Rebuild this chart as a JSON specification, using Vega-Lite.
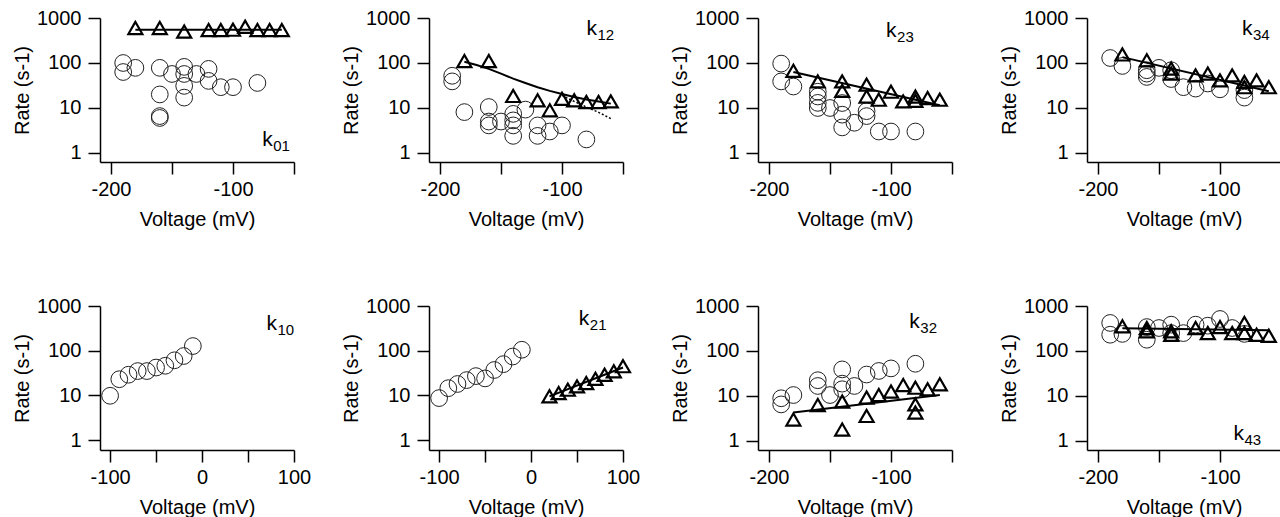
{
"$schema":"https://vega.github.io/schema/vega-lite/v6.json",
"background":"white",
"padding":{"left":12,"top":8,"right":0,"bottom":0},
"bounds":"flush",
"columns":4,
"spacing":{"row":144,"column":135},
"datasets":{
"rows":[
{"panel":"k01","kind":"circle","voltage":-190,"rate":100},{"panel":"k01","kind":"circle","voltage":-190,"rate":63},{"panel":"k01","kind":"circle","voltage":-180,"rate":78},{"panel":"k01","kind":"circle","voltage":-160,"rate":78},{"panel":"k01","kind":"circle","voltage":-160,"rate":20},{"panel":"k01","kind":"circle","voltage":-160,"rate":6.6},{"panel":"k01","kind":"circle","voltage":-160,"rate":6},{"panel":"k01","kind":"circle","voltage":-150,"rate":57},{"panel":"k01","kind":"circle","voltage":-140,"rate":82},{"panel":"k01","kind":"circle","voltage":-140,"rate":57},{"panel":"k01","kind":"circle","voltage":-140,"rate":31},{"panel":"k01","kind":"circle","voltage":-140,"rate":17},{"panel":"k01","kind":"circle","voltage":-130,"rate":57},{"panel":"k01","kind":"circle","voltage":-120,"rate":74},{"panel":"k01","kind":"circle","voltage":-120,"rate":40},{"panel":"k01","kind":"circle","voltage":-110,"rate":29},{"panel":"k01","kind":"circle","voltage":-100,"rate":29},{"panel":"k01","kind":"circle","voltage":-80,"rate":36},
{"panel":"k01","kind":"triangle","voltage":-180,"rate":600},{"panel":"k01","kind":"triangle","voltage":-160,"rate":600},{"panel":"k01","kind":"triangle","voltage":-140,"rate":500},{"panel":"k01","kind":"triangle","voltage":-120,"rate":540},{"panel":"k01","kind":"triangle","voltage":-110,"rate":540},{"panel":"k01","kind":"triangle","voltage":-100,"rate":550},{"panel":"k01","kind":"triangle","voltage":-90,"rate":640},{"panel":"k01","kind":"triangle","voltage":-80,"rate":540},{"panel":"k01","kind":"triangle","voltage":-70,"rate":540},{"panel":"k01","kind":"triangle","voltage":-60,"rate":540},
{"panel":"k01","kind":"fit","voltage":-180,"rate":550},{"panel":"k01","kind":"fit","voltage":-60,"rate":550},

{"panel":"k12","kind":"circle","voltage":-190,"rate":52},{"panel":"k12","kind":"circle","voltage":-190,"rate":39},{"panel":"k12","kind":"circle","voltage":-180,"rate":8.1},{"panel":"k12","kind":"circle","voltage":-160,"rate":10.5},{"panel":"k12","kind":"circle","voltage":-160,"rate":5},{"panel":"k12","kind":"circle","voltage":-160,"rate":4.1},{"panel":"k12","kind":"circle","voltage":-150,"rate":5},{"panel":"k12","kind":"circle","voltage":-140,"rate":7.4},{"panel":"k12","kind":"circle","voltage":-140,"rate":5.3},{"panel":"k12","kind":"circle","voltage":-140,"rate":4.1},{"panel":"k12","kind":"circle","voltage":-140,"rate":2.4},{"panel":"k12","kind":"circle","voltage":-130,"rate":9.2},{"panel":"k12","kind":"circle","voltage":-120,"rate":4.1},{"panel":"k12","kind":"circle","voltage":-120,"rate":2.4},{"panel":"k12","kind":"circle","voltage":-110,"rate":3},{"panel":"k12","kind":"circle","voltage":-100,"rate":4.1},{"panel":"k12","kind":"circle","voltage":-80,"rate":2},
{"panel":"k12","kind":"triangle","voltage":-180,"rate":110},{"panel":"k12","kind":"triangle","voltage":-160,"rate":110},{"panel":"k12","kind":"triangle","voltage":-140,"rate":18.5},{"panel":"k12","kind":"triangle","voltage":-120,"rate":14.8},{"panel":"k12","kind":"triangle","voltage":-110,"rate":8.9},{"panel":"k12","kind":"triangle","voltage":-100,"rate":16},{"panel":"k12","kind":"triangle","voltage":-90,"rate":14.8},{"panel":"k12","kind":"triangle","voltage":-80,"rate":13.6},{"panel":"k12","kind":"triangle","voltage":-70,"rate":13.6},{"panel":"k12","kind":"triangle","voltage":-60,"rate":14},
{"panel":"k12","kind":"fit","voltage":-180,"rate":107},{"panel":"k12","kind":"fit","voltage":-170,"rate":90},{"panel":"k12","kind":"fit","voltage":-160,"rate":74},{"panel":"k12","kind":"fit","voltage":-150,"rate":58},{"panel":"k12","kind":"fit","voltage":-140,"rate":45},{"panel":"k12","kind":"fit","voltage":-130,"rate":36},{"panel":"k12","kind":"fit","voltage":-120,"rate":29},{"panel":"k12","kind":"fit","voltage":-110,"rate":24},{"panel":"k12","kind":"fit","voltage":-100,"rate":20.5},{"panel":"k12","kind":"fit","voltage":-90,"rate":17.5},{"panel":"k12","kind":"fit","voltage":-80,"rate":15.5},{"panel":"k12","kind":"fit","voltage":-70,"rate":14},{"panel":"k12","kind":"fit","voltage":-60,"rate":12.5},
{"panel":"k12","kind":"dotted","voltage":-100,"rate":19},{"panel":"k12","kind":"dotted","voltage":-90,"rate":14},{"panel":"k12","kind":"dotted","voltage":-80,"rate":10.5},{"panel":"k12","kind":"dotted","voltage":-70,"rate":8},{"panel":"k12","kind":"dotted","voltage":-60,"rate":5.8},

{"panel":"k23","kind":"circle","voltage":-190,"rate":97},{"panel":"k23","kind":"circle","voltage":-190,"rate":39},{"panel":"k23","kind":"circle","voltage":-180,"rate":30},{"panel":"k23","kind":"circle","voltage":-160,"rate":23},{"panel":"k23","kind":"circle","voltage":-160,"rate":18},{"panel":"k23","kind":"circle","voltage":-160,"rate":13},{"panel":"k23","kind":"circle","voltage":-160,"rate":10},{"panel":"k23","kind":"circle","voltage":-150,"rate":10},{"panel":"k23","kind":"circle","voltage":-140,"rate":12.9},{"panel":"k23","kind":"circle","voltage":-140,"rate":7.1},{"panel":"k23","kind":"circle","voltage":-140,"rate":3.7},{"panel":"k23","kind":"circle","voltage":-130,"rate":4.7},{"panel":"k23","kind":"circle","voltage":-120,"rate":8.5},{"panel":"k23","kind":"circle","voltage":-120,"rate":6.6},{"panel":"k23","kind":"circle","voltage":-110,"rate":3},{"panel":"k23","kind":"circle","voltage":-100,"rate":3},{"panel":"k23","kind":"circle","voltage":-80,"rate":3},
{"panel":"k23","kind":"triangle","voltage":-180,"rate":67},{"panel":"k23","kind":"triangle","voltage":-160,"rate":39},{"panel":"k23","kind":"triangle","voltage":-140,"rate":39},{"panel":"k23","kind":"triangle","voltage":-140,"rate":24},{"panel":"k23","kind":"triangle","voltage":-120,"rate":33},{"panel":"k23","kind":"triangle","voltage":-120,"rate":18},{"panel":"k23","kind":"triangle","voltage":-110,"rate":15.3},{"panel":"k23","kind":"triangle","voltage":-100,"rate":23},{"panel":"k23","kind":"triangle","voltage":-90,"rate":14},{"panel":"k23","kind":"triangle","voltage":-80,"rate":18},{"panel":"k23","kind":"triangle","voltage":-80,"rate":14.5},{"panel":"k23","kind":"triangle","voltage":-70,"rate":16.6},{"panel":"k23","kind":"triangle","voltage":-60,"rate":15.3},
{"panel":"k23","kind":"fit","voltage":-180,"rate":63},{"panel":"k23","kind":"fit","voltage":-60,"rate":11.5},

{"panel":"k34","kind":"circle","voltage":-190,"rate":129},{"panel":"k34","kind":"circle","voltage":-180,"rate":86},{"panel":"k34","kind":"circle","voltage":-160,"rate":69},{"panel":"k34","kind":"circle","voltage":-160,"rate":58},{"panel":"k34","kind":"circle","voltage":-160,"rate":49},{"panel":"k34","kind":"circle","voltage":-150,"rate":78},{"panel":"k34","kind":"circle","voltage":-140,"rate":69},{"panel":"k34","kind":"circle","voltage":-140,"rate":44},{"panel":"k34","kind":"circle","voltage":-130,"rate":29},{"panel":"k34","kind":"circle","voltage":-120,"rate":27},{"panel":"k34","kind":"circle","voltage":-110,"rate":35},{"panel":"k34","kind":"circle","voltage":-100,"rate":26},{"panel":"k34","kind":"circle","voltage":-80,"rate":25},{"panel":"k34","kind":"circle","voltage":-80,"rate":17},
{"panel":"k34","kind":"triangle","voltage":-180,"rate":155},{"panel":"k34","kind":"triangle","voltage":-160,"rate":115},{"panel":"k34","kind":"triangle","voltage":-140,"rate":75},{"panel":"k34","kind":"triangle","voltage":-140,"rate":58},{"panel":"k34","kind":"triangle","voltage":-120,"rate":53},{"panel":"k34","kind":"triangle","voltage":-110,"rate":58},{"panel":"k34","kind":"triangle","voltage":-100,"rate":41},{"panel":"k34","kind":"triangle","voltage":-90,"rate":53},{"panel":"k34","kind":"triangle","voltage":-80,"rate":38},{"panel":"k34","kind":"triangle","voltage":-80,"rate":29},{"panel":"k34","kind":"triangle","voltage":-70,"rate":41},{"panel":"k34","kind":"triangle","voltage":-60,"rate":29},
{"panel":"k34","kind":"fit","voltage":-180,"rate":135},{"panel":"k34","kind":"fit","voltage":-60,"rate":23.5},

{"panel":"k10","kind":"circle","voltage":-100,"rate":9.8},{"panel":"k10","kind":"circle","voltage":-90,"rate":23},{"panel":"k10","kind":"circle","voltage":-80,"rate":29},{"panel":"k10","kind":"circle","voltage":-70,"rate":35},{"panel":"k10","kind":"circle","voltage":-60,"rate":35},{"panel":"k10","kind":"circle","voltage":-50,"rate":42},{"panel":"k10","kind":"circle","voltage":-40,"rate":46},{"panel":"k10","kind":"circle","voltage":-30,"rate":61},{"panel":"k10","kind":"circle","voltage":-20,"rate":76},{"panel":"k10","kind":"circle","voltage":-10,"rate":127},

{"panel":"k21","kind":"circle","voltage":-100,"rate":8.7},{"panel":"k21","kind":"circle","voltage":-90,"rate":14.5},{"panel":"k21","kind":"circle","voltage":-80,"rate":18},{"panel":"k21","kind":"circle","voltage":-70,"rate":22},{"panel":"k21","kind":"circle","voltage":-60,"rate":27},{"panel":"k21","kind":"circle","voltage":-50,"rate":24},{"panel":"k21","kind":"circle","voltage":-40,"rate":37},{"panel":"k21","kind":"circle","voltage":-30,"rate":50},{"panel":"k21","kind":"circle","voltage":-20,"rate":74},{"panel":"k21","kind":"circle","voltage":-10,"rate":105},
{"panel":"k21","kind":"triangle","voltage":20,"rate":9.5},{"panel":"k21","kind":"triangle","voltage":30,"rate":11.3},{"panel":"k21","kind":"triangle","voltage":40,"rate":13.4},{"panel":"k21","kind":"triangle","voltage":50,"rate":15.9},{"panel":"k21","kind":"triangle","voltage":60,"rate":18.9},{"panel":"k21","kind":"triangle","voltage":70,"rate":23.5},{"panel":"k21","kind":"triangle","voltage":80,"rate":29},{"panel":"k21","kind":"triangle","voltage":90,"rate":34.5},{"panel":"k21","kind":"triangle","voltage":100,"rate":45},
{"panel":"k21","kind":"fit","voltage":20,"rate":9.5},{"panel":"k21","kind":"fit","voltage":100,"rate":42},

{"panel":"k32","kind":"circle","voltage":-190,"rate":8.9},{"panel":"k32","kind":"circle","voltage":-190,"rate":6.5},{"panel":"k32","kind":"circle","voltage":-180,"rate":10.5},{"panel":"k32","kind":"circle","voltage":-160,"rate":22.4},{"panel":"k32","kind":"circle","voltage":-160,"rate":16.7},{"panel":"k32","kind":"circle","voltage":-150,"rate":10.5},{"panel":"k32","kind":"circle","voltage":-140,"rate":39},{"panel":"k32","kind":"circle","voltage":-140,"rate":18.8},{"panel":"k32","kind":"circle","voltage":-140,"rate":14.1},{"panel":"k32","kind":"circle","voltage":-130,"rate":16.7},{"panel":"k32","kind":"circle","voltage":-120,"rate":30},{"panel":"k32","kind":"circle","voltage":-110,"rate":36},{"panel":"k32","kind":"circle","voltage":-100,"rate":41},{"panel":"k32","kind":"circle","voltage":-80,"rate":52},
{"panel":"k32","kind":"triangle","voltage":-180,"rate":3},{"panel":"k32","kind":"triangle","voltage":-160,"rate":6.3},{"panel":"k32","kind":"triangle","voltage":-140,"rate":7.5},{"panel":"k32","kind":"triangle","voltage":-140,"rate":1.8},{"panel":"k32","kind":"triangle","voltage":-120,"rate":9.2},{"panel":"k32","kind":"triangle","voltage":-120,"rate":3.6},{"panel":"k32","kind":"triangle","voltage":-110,"rate":10.5},{"panel":"k32","kind":"triangle","voltage":-100,"rate":12.5},{"panel":"k32","kind":"triangle","voltage":-90,"rate":17.5},{"panel":"k32","kind":"triangle","voltage":-80,"rate":15.3},{"panel":"k32","kind":"triangle","voltage":-80,"rate":6.5},{"panel":"k32","kind":"triangle","voltage":-80,"rate":4.3},{"panel":"k32","kind":"triangle","voltage":-70,"rate":14.1},{"panel":"k32","kind":"triangle","voltage":-60,"rate":18.2},
{"panel":"k32","kind":"fit","voltage":-180,"rate":4.3},{"panel":"k32","kind":"fit","voltage":-60,"rate":10.5},

{"panel":"k43","kind":"circle","voltage":-190,"rate":420},{"panel":"k43","kind":"circle","voltage":-190,"rate":230},{"panel":"k43","kind":"circle","voltage":-180,"rate":240},{"panel":"k43","kind":"circle","voltage":-160,"rate":340},{"panel":"k43","kind":"circle","voltage":-160,"rate":178},{"panel":"k43","kind":"circle","voltage":-150,"rate":324},{"panel":"k43","kind":"circle","voltage":-140,"rate":385},{"panel":"k43","kind":"circle","voltage":-140,"rate":250},{"panel":"k43","kind":"circle","voltage":-130,"rate":250},{"panel":"k43","kind":"circle","voltage":-120,"rate":385},{"panel":"k43","kind":"circle","voltage":-110,"rate":365},{"panel":"k43","kind":"circle","voltage":-100,"rate":515},{"panel":"k43","kind":"circle","voltage":-90,"rate":324},{"panel":"k43","kind":"circle","voltage":-80,"rate":240},
{"panel":"k43","kind":"triangle","voltage":-180,"rate":354},{"panel":"k43","kind":"triangle","voltage":-160,"rate":324},{"panel":"k43","kind":"triangle","voltage":-160,"rate":275},{"panel":"k43","kind":"triangle","voltage":-140,"rate":275},{"panel":"k43","kind":"triangle","voltage":-140,"rate":230},{"panel":"k43","kind":"triangle","voltage":-120,"rate":324},{"panel":"k43","kind":"triangle","voltage":-110,"rate":250},{"panel":"k43","kind":"triangle","voltage":-100,"rate":340},{"panel":"k43","kind":"triangle","voltage":-90,"rate":250},{"panel":"k43","kind":"triangle","voltage":-80,"rate":420},{"panel":"k43","kind":"triangle","voltage":-80,"rate":250},{"panel":"k43","kind":"triangle","voltage":-70,"rate":230},{"panel":"k43","kind":"triangle","voltage":-60,"rate":218},
{"panel":"k43","kind":"fit","voltage":-180,"rate":320},{"panel":"k43","kind":"fit","voltage":-60,"rate":290}
],
"labels":[
{"panel":"k01","voltage":-76,"rate":1.45,"main":"k","sub":"01"},
{"panel":"k12","voltage":-80,"rate":415,"main":"k","sub":"12"},
{"panel":"k23","voltage":-104,"rate":383,"main":"k","sub":"23"},
{"panel":"k34","voltage":-82,"rate":418,"main":"k","sub":"34"},
{"panel":"k10","voltage":70,"rate":293,"main":"k","sub":"10"},
{"panel":"k21","voltage":52,"rate":373,"main":"k","sub":"21"},
{"panel":"k32","voltage":-85,"rate":324,"main":"k","sub":"32"},
{"panel":"k43","voltage":-89,"rate":1.05,"main":"k","sub":"43"}
]
},
"concat":[
{"width":194,"height":144,"data":{"name":"rows"},"transform":[{"filter":"datum.panel==='k01'"}],
 "encoding":{"x":{"field":"voltage","type":"quantitative","scale":{"domain":[-209,-50],"nice":false,"zero":false},"axis":{"title":"Voltage (mV)","values":[-200,-150,-100,-50],"labelExpr":"datum.value % 100 === 0 ? '' + datum.value : ''"}},
  "y":{"field":"rate","type":"quantitative","scale":{"type":"log","domain":[0.63,1000],"nice":false},"axis":{"title":"Rate (s-1)","values":[1,10,100,1000],"labelExpr":"'' + datum.value"}}},
 "layer":[
  {"transform":[{"filter":"datum.kind==='circle'"}],"mark":{"type":"point","shape":"circle","filled":false,"size":280,"stroke":"#222","strokeWidth":1,"opacity":1}},
  {"transform":[{"filter":"datum.kind==='fit'"}],"mark":{"type":"line","color":"black","strokeWidth":2}},
  {"transform":[{"filter":"datum.kind==='triangle'"}],"mark":{"type":"point","shape":"triangle-up","filled":false,"size":196,"stroke":"black","strokeWidth":2.2,"opacity":1}},
  {"data":{"name":"labels"},"transform":[{"filter":"datum.panel==='k01'"}],"mark":{"type":"text","align":"left","baseline":"alphabetic","font":"Liberation Sans","fontSize":21,"color":"black"},"encoding":{"text":{"field":"main"}}},
  {"data":{"name":"labels"},"transform":[{"filter":"datum.panel==='k01'"}],"mark":{"type":"text","align":"left","baseline":"alphabetic","font":"Liberation Sans","fontSize":15,"color":"black","dx":11,"dy":5},"encoding":{"text":{"field":"sub"}}}
 ]},
{"width":194,"height":144,"data":{"name":"rows"},"transform":[{"filter":"datum.panel==='k12'"}],
 "encoding":{"x":{"field":"voltage","type":"quantitative","scale":{"domain":[-209,-50],"nice":false,"zero":false},"axis":{"title":"Voltage (mV)","values":[-200,-150,-100,-50],"labelExpr":"datum.value % 100 === 0 ? '' + datum.value : ''"}},
  "y":{"field":"rate","type":"quantitative","scale":{"type":"log","domain":[0.63,1000],"nice":false},"axis":{"title":"Rate (s-1)","values":[1,10,100,1000],"labelExpr":"'' + datum.value"}}},
 "layer":[
  {"transform":[{"filter":"datum.kind==='circle'"}],"mark":{"type":"point","shape":"circle","filled":false,"size":280,"stroke":"#222","strokeWidth":1,"opacity":1}},
  {"transform":[{"filter":"datum.kind==='fit'"}],"mark":{"type":"line","color":"black","strokeWidth":2}},
  {"transform":[{"filter":"datum.kind==='dotted'"}],"mark":{"type":"line","color":"black","strokeWidth":1.5,"strokeDash":[2,2]}},
  {"transform":[{"filter":"datum.kind==='triangle'"}],"mark":{"type":"point","shape":"triangle-up","filled":false,"size":196,"stroke":"black","strokeWidth":2.2,"opacity":1}},
  {"data":{"name":"labels"},"transform":[{"filter":"datum.panel==='k12'"}],"mark":{"type":"text","align":"left","baseline":"alphabetic","font":"Liberation Sans","fontSize":21,"color":"black"},"encoding":{"text":{"field":"main"}}},
  {"data":{"name":"labels"},"transform":[{"filter":"datum.panel==='k12'"}],"mark":{"type":"text","align":"left","baseline":"alphabetic","font":"Liberation Sans","fontSize":15,"color":"black","dx":11,"dy":5},"encoding":{"text":{"field":"sub"}}}
 ]},
{"width":194,"height":144,"data":{"name":"rows"},"transform":[{"filter":"datum.panel==='k23'"}],
 "encoding":{"x":{"field":"voltage","type":"quantitative","scale":{"domain":[-209,-50],"nice":false,"zero":false},"axis":{"title":"Voltage (mV)","values":[-200,-150,-100,-50],"labelExpr":"datum.value % 100 === 0 ? '' + datum.value : ''"}},
  "y":{"field":"rate","type":"quantitative","scale":{"type":"log","domain":[0.63,1000],"nice":false},"axis":{"title":"Rate (s-1)","values":[1,10,100,1000],"labelExpr":"'' + datum.value"}}},
 "layer":[
  {"transform":[{"filter":"datum.kind==='circle'"}],"mark":{"type":"point","shape":"circle","filled":false,"size":280,"stroke":"#222","strokeWidth":1,"opacity":1}},
  {"transform":[{"filter":"datum.kind==='fit'"}],"mark":{"type":"line","color":"black","strokeWidth":2}},
  {"transform":[{"filter":"datum.kind==='triangle'"}],"mark":{"type":"point","shape":"triangle-up","filled":false,"size":196,"stroke":"black","strokeWidth":2.2,"opacity":1}},
  {"data":{"name":"labels"},"transform":[{"filter":"datum.panel==='k23'"}],"mark":{"type":"text","align":"left","baseline":"alphabetic","font":"Liberation Sans","fontSize":21,"color":"black"},"encoding":{"text":{"field":"main"}}},
  {"data":{"name":"labels"},"transform":[{"filter":"datum.panel==='k23'"}],"mark":{"type":"text","align":"left","baseline":"alphabetic","font":"Liberation Sans","fontSize":15,"color":"black","dx":11,"dy":5},"encoding":{"text":{"field":"sub"}}}
 ]},
{"width":194,"height":144,"data":{"name":"rows"},"transform":[{"filter":"datum.panel==='k34'"}],
 "encoding":{"x":{"field":"voltage","type":"quantitative","scale":{"domain":[-209,-50],"nice":false,"zero":false},"axis":{"title":"Voltage (mV)","values":[-200,-150,-100,-50],"labelExpr":"datum.value % 100 === 0 ? '' + datum.value : ''"}},
  "y":{"field":"rate","type":"quantitative","scale":{"type":"log","domain":[0.63,1000],"nice":false},"axis":{"title":"Rate (s-1)","values":[1,10,100,1000],"labelExpr":"'' + datum.value"}}},
 "layer":[
  {"transform":[{"filter":"datum.kind==='circle'"}],"mark":{"type":"point","shape":"circle","filled":false,"size":280,"stroke":"#222","strokeWidth":1,"opacity":1}},
  {"transform":[{"filter":"datum.kind==='fit'"}],"mark":{"type":"line","color":"black","strokeWidth":2}},
  {"transform":[{"filter":"datum.kind==='triangle'"}],"mark":{"type":"point","shape":"triangle-up","filled":false,"size":196,"stroke":"black","strokeWidth":2.2,"opacity":1}},
  {"data":{"name":"labels"},"transform":[{"filter":"datum.panel==='k34'"}],"mark":{"type":"text","align":"left","baseline":"alphabetic","font":"Liberation Sans","fontSize":21,"color":"black"},"encoding":{"text":{"field":"main"}}},
  {"data":{"name":"labels"},"transform":[{"filter":"datum.panel==='k34'"}],"mark":{"type":"text","align":"left","baseline":"alphabetic","font":"Liberation Sans","fontSize":15,"color":"black","dx":11,"dy":5},"encoding":{"text":{"field":"sub"}}}
 ]},
{"width":194,"height":144,"data":{"name":"rows"},"transform":[{"filter":"datum.panel==='k10'"}],
 "encoding":{"x":{"field":"voltage","type":"quantitative","scale":{"domain":[-111,100],"nice":false,"zero":false},"axis":{"title":"Voltage (mV)","values":[-100,-50,0,50,100],"labelExpr":"datum.value % 100 === 0 ? '' + datum.value : ''"}},
  "y":{"field":"rate","type":"quantitative","scale":{"type":"log","domain":[0.6,1000],"nice":false},"axis":{"title":"Rate (s-1)","values":[1,10,100,1000],"labelExpr":"'' + datum.value"}}},
 "layer":[
  {"transform":[{"filter":"datum.kind==='circle'"}],"mark":{"type":"point","shape":"circle","filled":false,"size":280,"stroke":"#222","strokeWidth":1,"opacity":1}},
  {"data":{"name":"labels"},"transform":[{"filter":"datum.panel==='k10'"}],"mark":{"type":"text","align":"left","baseline":"alphabetic","font":"Liberation Sans","fontSize":21,"color":"black"},"encoding":{"text":{"field":"main"}}},
  {"data":{"name":"labels"},"transform":[{"filter":"datum.panel==='k10'"}],"mark":{"type":"text","align":"left","baseline":"alphabetic","font":"Liberation Sans","fontSize":15,"color":"black","dx":11,"dy":5},"encoding":{"text":{"field":"sub"}}}
 ]},
{"width":194,"height":144,"data":{"name":"rows"},"transform":[{"filter":"datum.panel==='k21'"}],
 "encoding":{"x":{"field":"voltage","type":"quantitative","scale":{"domain":[-111,100],"nice":false,"zero":false},"axis":{"title":"Voltage (mV)","values":[-100,-50,0,50,100],"labelExpr":"datum.value % 100 === 0 ? '' + datum.value : ''"}},
  "y":{"field":"rate","type":"quantitative","scale":{"type":"log","domain":[0.6,1000],"nice":false},"axis":{"title":"Rate (s-1)","values":[1,10,100,1000],"labelExpr":"'' + datum.value"}}},
 "layer":[
  {"transform":[{"filter":"datum.kind==='circle'"}],"mark":{"type":"point","shape":"circle","filled":false,"size":280,"stroke":"#222","strokeWidth":1,"opacity":1}},
  {"transform":[{"filter":"datum.kind==='fit'"}],"mark":{"type":"line","color":"black","strokeWidth":2}},
  {"transform":[{"filter":"datum.kind==='triangle'"}],"mark":{"type":"point","shape":"triangle-up","filled":false,"size":196,"stroke":"black","strokeWidth":2.2,"opacity":1}},
  {"data":{"name":"labels"},"transform":[{"filter":"datum.panel==='k21'"}],"mark":{"type":"text","align":"left","baseline":"alphabetic","font":"Liberation Sans","fontSize":21,"color":"black"},"encoding":{"text":{"field":"main"}}},
  {"data":{"name":"labels"},"transform":[{"filter":"datum.panel==='k21'"}],"mark":{"type":"text","align":"left","baseline":"alphabetic","font":"Liberation Sans","fontSize":15,"color":"black","dx":11,"dy":5},"encoding":{"text":{"field":"sub"}}}
 ]},
{"width":194,"height":144,"data":{"name":"rows"},"transform":[{"filter":"datum.panel==='k32'"}],
 "encoding":{"x":{"field":"voltage","type":"quantitative","scale":{"domain":[-209,-50],"nice":false,"zero":false},"axis":{"title":"Voltage (mV)","values":[-200,-150,-100,-50],"labelExpr":"datum.value % 100 === 0 ? '' + datum.value : ''"}},
  "y":{"field":"rate","type":"quantitative","scale":{"type":"log","domain":[0.63,1000],"nice":false},"axis":{"title":"Rate (s-1)","values":[1,10,100,1000],"labelExpr":"'' + datum.value"}}},
 "layer":[
  {"transform":[{"filter":"datum.kind==='circle'"}],"mark":{"type":"point","shape":"circle","filled":false,"size":280,"stroke":"#222","strokeWidth":1,"opacity":1}},
  {"transform":[{"filter":"datum.kind==='fit'"}],"mark":{"type":"line","color":"black","strokeWidth":2}},
  {"transform":[{"filter":"datum.kind==='triangle'"}],"mark":{"type":"point","shape":"triangle-up","filled":false,"size":196,"stroke":"black","strokeWidth":2.2,"opacity":1}},
  {"data":{"name":"labels"},"transform":[{"filter":"datum.panel==='k32'"}],"mark":{"type":"text","align":"left","baseline":"alphabetic","font":"Liberation Sans","fontSize":21,"color":"black"},"encoding":{"text":{"field":"main"}}},
  {"data":{"name":"labels"},"transform":[{"filter":"datum.panel==='k32'"}],"mark":{"type":"text","align":"left","baseline":"alphabetic","font":"Liberation Sans","fontSize":15,"color":"black","dx":11,"dy":5},"encoding":{"text":{"field":"sub"}}}
 ]},
{"width":194,"height":144,"data":{"name":"rows"},"transform":[{"filter":"datum.panel==='k43'"}],
 "encoding":{"x":{"field":"voltage","type":"quantitative","scale":{"domain":[-209,-50],"nice":false,"zero":false},"axis":{"title":"Voltage (mV)","values":[-200,-150,-100,-50],"labelExpr":"datum.value % 100 === 0 ? '' + datum.value : ''"}},
  "y":{"field":"rate","type":"quantitative","scale":{"type":"log","domain":[0.63,1000],"nice":false},"axis":{"title":"Rate (s-1)","values":[1,10,100,1000],"labelExpr":"'' + datum.value"}}},
 "layer":[
  {"transform":[{"filter":"datum.kind==='circle'"}],"mark":{"type":"point","shape":"circle","filled":false,"size":280,"stroke":"#222","strokeWidth":1,"opacity":1}},
  {"transform":[{"filter":"datum.kind==='fit'"}],"mark":{"type":"line","color":"black","strokeWidth":2}},
  {"transform":[{"filter":"datum.kind==='triangle'"}],"mark":{"type":"point","shape":"triangle-up","filled":false,"size":196,"stroke":"black","strokeWidth":2.2,"opacity":1}},
  {"data":{"name":"labels"},"transform":[{"filter":"datum.panel==='k43'"}],"mark":{"type":"text","align":"left","baseline":"alphabetic","font":"Liberation Sans","fontSize":21,"color":"black"},"encoding":{"text":{"field":"main"}}},
  {"data":{"name":"labels"},"transform":[{"filter":"datum.panel==='k43'"}],"mark":{"type":"text","align":"left","baseline":"alphabetic","font":"Liberation Sans","fontSize":15,"color":"black","dx":11,"dy":5},"encoding":{"text":{"field":"sub"}}}
 ]}
],
"config":{
 "view":{"stroke":null},
 "font":"Liberation Sans",
 "axis":{"grid":false,"domainColor":"black","tickColor":"black","labelColor":"black","titleColor":"black","labelFont":"Liberation Sans","titleFont":"Liberation Sans","labelFontSize":20,"titleFontSize":20,"titleFontWeight":"normal","tickSize":12,"domainWidth":1.5,"tickWidth":1.5,"labelFlush":false,"labelOverlap":false},
 "axisX":{"labelPadding":5,"titlePadding":10},
 "axisY":{"labelPadding":7,"titlePadding":4}
}
}
